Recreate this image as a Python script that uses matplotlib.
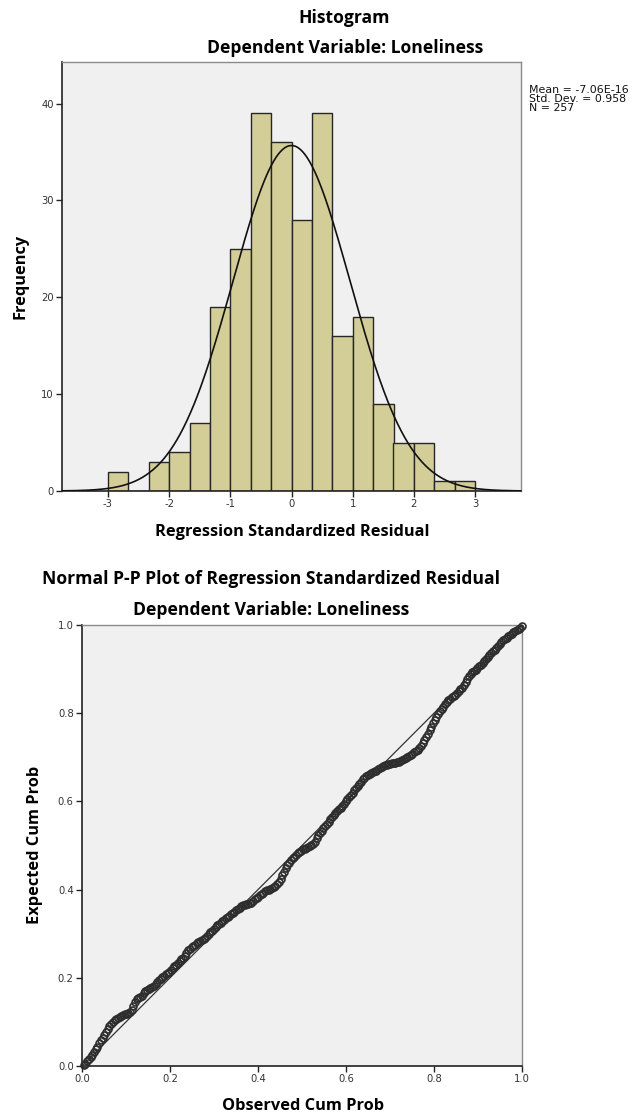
import numpy as np
import matplotlib
matplotlib.use("Agg")
import matplotlib.pyplot as plt
from math import sqrt, pi

# residual histogram (bins of width 1/3 from -3 to 3)
bin_edges = np.linspace(-3, 3, 19)
counts = [2, 0, 3, 4, 7, 19, 25, 39, 36, 28, 39, 16, 18, 9, 5, 5, 1, 1]

res_mean = -7.06e-16
res_sd = 0.958
res_n = 257

# expected cum prob of the sorted residuals (normal P-P plot)
expected_cp = [
    0.003, 0.005, 0.012, 0.016, 0.021, 0.026, 0.032, 0.038, 0.044,
    0.052, 0.058, 0.064, 0.071, 0.078, 0.084, 0.090,
    0.095, 0.100, 0.104, 0.107, 0.109, 0.111, 0.113, 0.115, 0.117, 0.119,
    0.121, 0.123, 0.126, 0.135, 0.146, 0.152, 0.155, 0.157, 0.159,
    0.165, 0.170, 0.173, 0.175, 0.177, 0.179, 0.182, 0.186, 0.190, 0.194,
    0.198, 0.202, 0.205, 0.208, 0.211, 0.214, 0.218, 0.222, 0.226, 0.230,
    0.234, 0.238, 0.242, 0.246, 0.250,
    0.257, 0.262, 0.266, 0.269, 0.272, 0.275, 0.278, 0.281, 0.284, 0.286,
    0.288, 0.291, 0.295, 0.299, 0.303, 0.307, 0.311, 0.315, 0.319, 0.322,
    0.325, 0.328, 0.332, 0.335, 0.338, 0.341, 0.344, 0.347, 0.350, 0.353,
    0.356, 0.359, 0.362, 0.364, 0.366, 0.367, 0.368, 0.369, 0.369,
    0.375, 0.378, 0.381, 0.384, 0.387, 0.390, 0.393, 0.396, 0.398, 0.400,
    0.402, 0.404, 0.406, 0.409, 0.412, 0.418, 0.425, 0.432, 0.440, 0.448,
    0.455, 0.461, 0.466, 0.471, 0.475, 0.479, 0.482, 0.485, 0.488, 0.491,
    0.493, 0.495, 0.497, 0.499, 0.501, 0.504,
    0.508, 0.516, 0.523, 0.529, 0.534, 0.539, 0.544, 0.549, 0.554, 0.559,
    0.564, 0.569, 0.574, 0.578, 0.582, 0.586, 0.590, 0.595, 0.600, 0.605,
    0.610, 0.615, 0.620, 0.625, 0.630, 0.635, 0.640, 0.645,
    0.650, 0.654, 0.657, 0.660, 0.662, 0.664, 0.666, 0.668, 0.670, 0.673,
    0.676, 0.678, 0.680, 0.682, 0.683, 0.684, 0.685, 0.686, 0.687, 0.688,
    0.689, 0.690, 0.692, 0.694, 0.696, 0.698, 0.700, 0.702, 0.705, 0.708,
    0.711, 0.714, 0.717, 0.721, 0.726, 0.732, 0.739, 0.746, 0.753,
    0.761, 0.769, 0.777, 0.785, 0.792, 0.798, 0.804, 0.810, 0.815, 0.820,
    0.825, 0.829, 0.833, 0.836, 0.839, 0.842,
    0.846, 0.850, 0.854, 0.858, 0.863, 0.870, 0.878, 0.885, 0.890, 0.893,
    0.896, 0.899, 0.902, 0.906, 0.910, 0.914, 0.918, 0.922,
    0.927, 0.932, 0.936, 0.940, 0.944, 0.948, 0.953, 0.958, 0.962,
    0.965, 0.968, 0.971, 0.974, 0.977,
    0.980, 0.983, 0.986, 0.988, 0.990,
    0.994, 0.997,
]

W, H = 639, 1117
BAR = "#d3ce97"
BG = "#f0f0f0"
DARK = "#222222"

plt.rcParams["font.family"] = ["DejaVu Sans"]
plt.rcParams["axes.unicode_minus"] = False
BOLD = dict(family=["Open Sans", "DejaVu Sans"], fontweight="bold")
TITLE_FONT = dict(BOLD, fontsize=12.6)
LABEL_FONT = dict(BOLD, fontsize=11.8)


def fx(px):
    return px / W


def fy(py):
    return 1 - py / H


def style_axes(ax):
    ax.set_facecolor(BG)
    for side in ("left", "bottom"):
        ax.spines[side].set_color(DARK)
        ax.spines[side].set_linewidth(1.2)
    for side in ("top", "right"):
        ax.spines[side].set_color("#8a8a8a")
        ax.spines[side].set_linewidth(1.0)
    ax.tick_params(direction="out", length=4, width=1, color=DARK,
                   labelsize=7.2, labelcolor="#333333", pad=2)


fig = plt.figure(figsize=(W / 100, H / 100), dpi=100)

# ---- histogram ----
ax1 = fig.add_axes([fx(62), fy(491), fx(521 - 62), (491 - 62) / H])
style_axes(ax1)
binw = bin_edges[1] - bin_edges[0]
ax1.bar(bin_edges[:-1], counts, width=binw, align="edge", color=BAR,
        edgecolor="#262626", linewidth=1.0, zorder=2)

xs = np.linspace(-3.75, 3.75, 400)
pdf = np.exp(-0.5 * ((xs - res_mean) / res_sd) ** 2) / (res_sd * sqrt(2 * pi))
ax1.plot(xs, res_n * binw * pdf, color="#111111", lw=1.2, zorder=3)

ax1.set_xlim(-3.75, 3.75)
ax1.set_ylim(0, 44.3)
ax1.set_xticks([-3, -2, -1, 0, 1, 2, 3])
ax1.set_yticks([0, 10, 20, 30, 40])

fig.text(fx(344), fy(18), "Histogram", ha="center", va="center", **TITLE_FONT)
fig.text(fx(345), fy(48), "Dependent Variable: Loneliness", ha="center", va="center", **TITLE_FONT)
fig.text(fx(292), fy(532), "Regression Standardized Residual", ha="center", va="center", **LABEL_FONT)
fig.text(fx(20), fy(276), "Frequency", ha="center", va="center", rotation=90, **LABEL_FONT)
fig.text(fx(529), fy(85), "Mean = %.2E\nStd. Dev. = %.3f\nN = %d" % (res_mean, res_sd, res_n),
         ha="left", va="top", fontsize=7.9, color="#111111", linespacing=0.88)

# ---- normal P-P plot ----
ax2 = fig.add_axes([fx(82), fy(1066), fx(440), 441 / H])
style_axes(ax2)
n = len(expected_cp)
observed_cp = np.arange(1, n + 1) / n
ax2.plot([0, 1], [0, 1], color="#333333", lw=0.9, zorder=2)
ax2.plot(observed_cp, expected_cp, linestyle="none", marker="o", ms=5.0,
         mfc="none", mec="#2e2e2e", mew=1.2, zorder=3, clip_on=False)
ax2.set_xlim(0, 1)
ax2.set_ylim(0, 1)
ticks = [0.0, 0.2, 0.4, 0.6, 0.8, 1.0]
ax2.set_xticks(ticks)
ax2.set_yticks(ticks)
ax2.set_xticklabels(["%.1f" % t for t in ticks])
ax2.set_yticklabels(["%.1f" % t for t in ticks])

fig.text(fx(271), fy(579), "Normal P-P Plot of Regression Standardized Residual",
         ha="center", va="center", **TITLE_FONT)
fig.text(fx(271), fy(610), "Dependent Variable: Loneliness", ha="center", va="center", **TITLE_FONT)
fig.text(fx(303), fy(1106), "Observed Cum Prob", ha="center", va="center", **LABEL_FONT)
fig.text(fx(35), fy(845), "Expected Cum Prob", ha="center", va="center", rotation=90, **LABEL_FONT)

fig.savefig("out.png", dpi=100, facecolor="white")
